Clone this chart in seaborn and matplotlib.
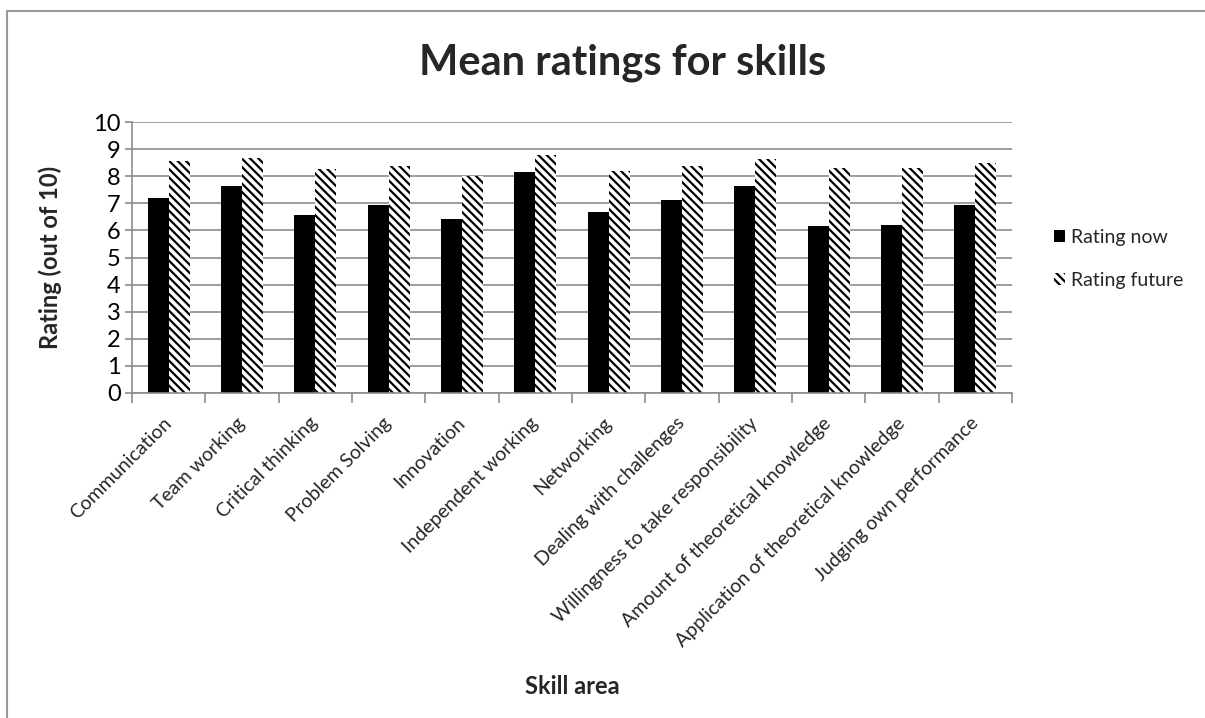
import matplotlib
matplotlib.use("Agg")
import matplotlib.pyplot as plt
from matplotlib.patches import Patch
from matplotlib.lines import Line2D
import seaborn as sns
import pandas as pd

skills = [
    "Communication", "Team working", "Critical thinking", "Problem Solving",
    "Innovation", "Independent working", "Networking", "Dealing with challenges",
    "Willingness to take responsibility", "Amount of theoretical knowledge",
    "Application of theoretical knowledge", "Judging own performance",
]
rating_now = [7.19, 7.63, 6.57, 6.95, 6.42, 8.15, 6.68, 7.13, 7.64, 6.17, 6.19, 6.93]
rating_future = [8.57, 8.69, 8.27, 8.38, 8.00, 8.78, 8.21, 8.40, 8.64, 8.32, 8.32, 8.48]
series_names = ["Rating now", "Rating future"]
y_ticks = list(range(0, 11))

df = pd.DataFrame({
    "Skill": skills * 2,
    "Rating": rating_now + rating_future,
    "Series": [series_names[0]] * len(skills) + [series_names[1]] * len(skills),
})

sns.set_theme(style="white")
plt.rcParams["font.family"] = ["Lato", "DejaVu Sans"]
plt.rcParams["hatch.linewidth"] = 1.6
plt.rcParams["hatch.color"] = "black"

fig = plt.figure(figsize=(12.05, 7.18), dpi=100)
ax = fig.add_axes([0.1095, 0.453, 0.7303, 0.3767])

sns.barplot(data=df, x="Skill", y="Rating", hue="Series", order=skills,
            hue_order=series_names, palette=["black", "white"],
            width=0.57, gap=0, errorbar=None, legend=False, ax=ax,
            saturation=1)

# solid bars for the current rating, hatched bars for the future rating
for bar in ax.containers[0]:
    bar.set_facecolor("black")
    bar.set_edgecolor("none")
    bar.set_linewidth(0)
for bar in ax.containers[1]:
    bar.set_facecolor("white")
    bar.set_edgecolor("black")
    bar.set_hatch("\\\\\\\\")
    bar.set_linewidth(0)

grid_color = "#8c8c8c"
ax.set_ylim(0, 10)
ax.set_yticks(y_ticks)
ax.set_xlim(-0.5, len(skills) - 0.5)
ax.yaxis.grid(True, color=grid_color, linewidth=1.2)
ax.set_axisbelow(True)
for side in ["top", "right"]:
    ax.spines[side].set_visible(False)
for side in ["left", "bottom"]:
    ax.spines[side].set_color(grid_color)
    ax.spines[side].set_linewidth(1.2)

ax.tick_params(axis="y", which="major", left=True, length=5, width=1.2,
               color=grid_color, labelsize=17, pad=3, labelcolor="black")
# category boundary ticks on the x axis
ax.set_xticks([i + 0.5 for i in range(-1, len(skills))], minor=True)
ax.tick_params(axis="x", which="minor", bottom=True, length=7, width=1.2,
               color=grid_color)
ax.set_xticks(range(len(skills)))
ax.set_xticklabels(skills, rotation=45, ha="right", va="center",
                   rotation_mode="anchor", fontsize=14)
ax.tick_params(axis="x", which="major", bottom=False, pad=14)

ax.set_xlabel("Skill area", fontsize=17, fontweight="bold", labelpad=0)
ax.xaxis.set_label_coords(0.5, -(676 - 393) / 271)
ax.set_ylabel("Rating (out of 10)", fontsize=17, fontweight="bold")
ax.yaxis.set_label_coords(-70 / 880, 0.5)

fig.text(623 / 1205, 1 - 63 / 718, "Mean ratings for skills", ha="center",
         va="center", fontsize=30, fontweight="bold")

handles = [
    Patch(facecolor="black", edgecolor="none", label=series_names[0]),
    Patch(facecolor="white", edgecolor="black", hatch="\\\\\\\\", linewidth=0,
          label=series_names[1]),
]
fig.legend(handles=handles, loc="center left",
           bbox_to_anchor=(1046 / 1205, 1 - 259 / 718), frameon=False,
           fontsize=14, handlelength=0.6, handleheight=0.6, handletextpad=0.3,
           labelspacing=1.35, borderaxespad=0)

# chart area outline along the top and left edges
border = "#9a9a9a"
fig.add_artist(Line2D([6.5 / 1205, 1.0], [1 - 10.5 / 718] * 2,
                      transform=fig.transFigure, color=border, linewidth=1.5))
fig.add_artist(Line2D([6.5 / 1205] * 2, [0.0, 1 - 10.5 / 718],
                      transform=fig.transFigure, color=border, linewidth=1.5))

fig.savefig("out.png", dpi=100)
